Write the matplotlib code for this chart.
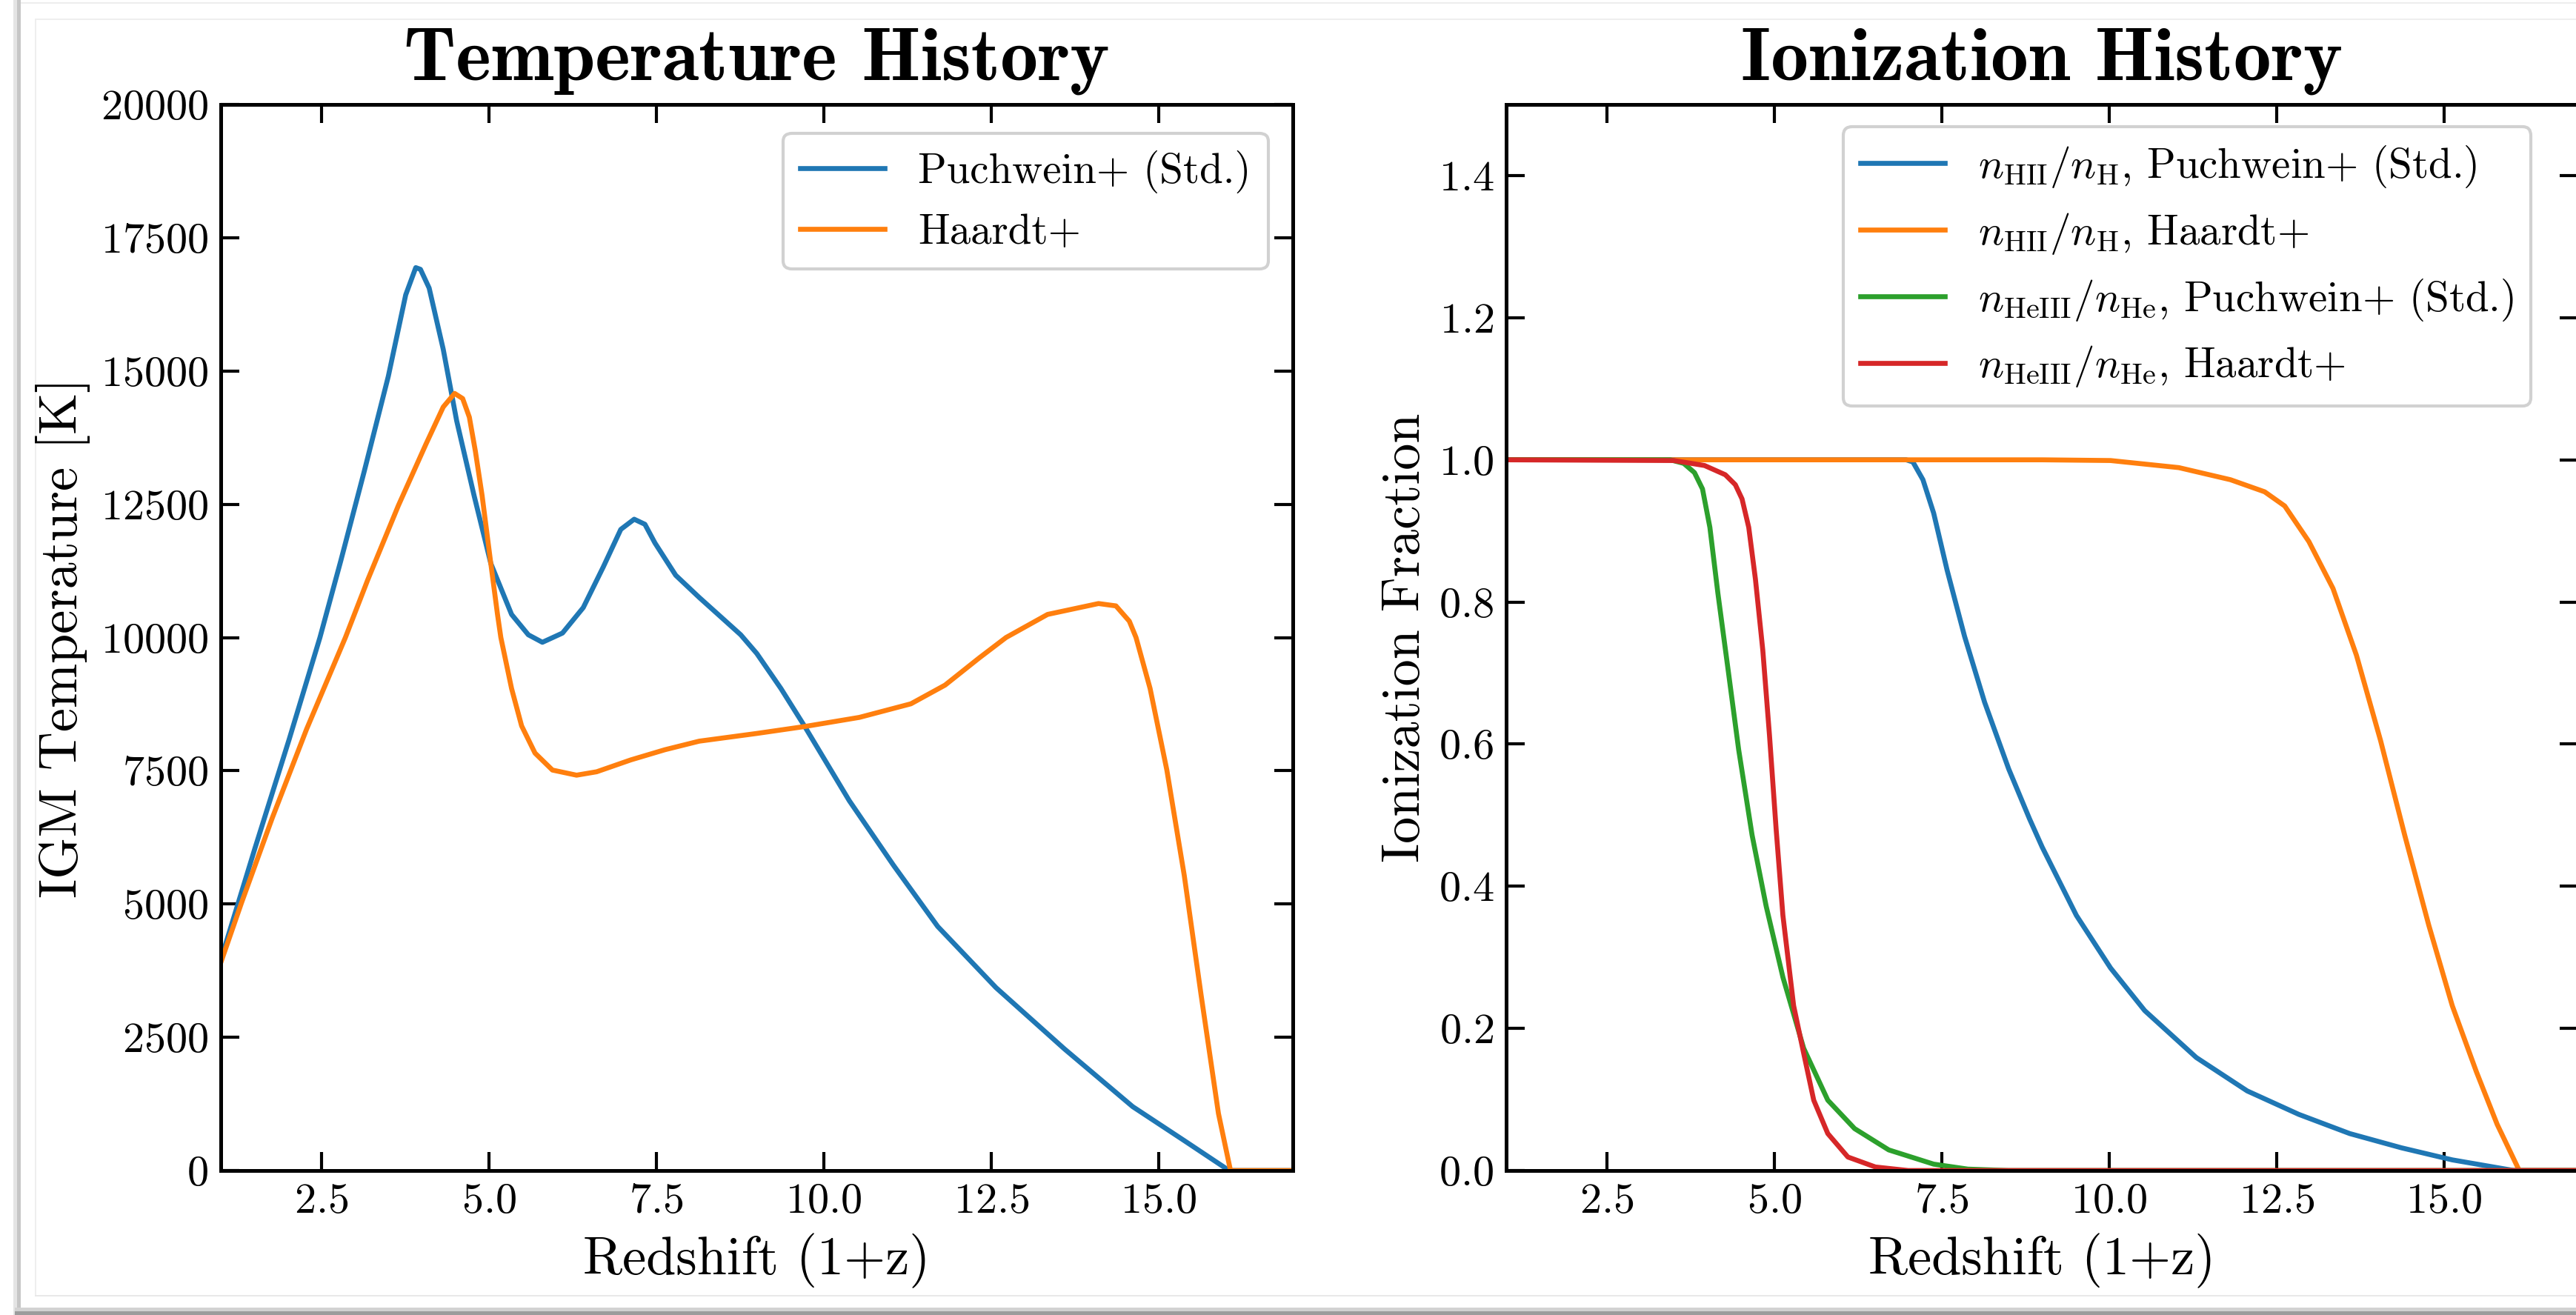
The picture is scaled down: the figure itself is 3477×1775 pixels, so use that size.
import numpy as np
import matplotlib
matplotlib.use("Agg")
from matplotlib import pyplot as plt
from matplotlib.patches import Rectangle

# Temperature history (1+z, K)
z_temp_puchwein = [1.0, 1.51, 2.02, 2.48, 2.79, 3.14, 3.50, 3.76, 3.91, 3.98, 4.11, 4.32, 4.52,
                   4.78, 5.03, 5.34, 5.59, 5.80, 6.10, 6.41, 6.71, 6.97, 7.17, 7.33, 7.48, 7.79,
                   8.14, 8.45, 8.76, 9.0, 9.36, 9.71, 10.38, 11.04, 11.70, 12.57, 13.59, 14.61,
                   15.38, 16.05, 17.0]
T_puchwein = [3950, 6046, 8087, 10000, 11434, 13112, 14898, 16428, 16939, 16907, 16556, 15408,
              14069, 12665, 11390, 10433, 10051, 9910, 10083, 10561, 11327, 12028, 12219, 12124,
              11773, 11167, 10752, 10402, 10051, 9700, 9043, 8342, 6939, 5727, 4579, 3431, 2283,
              1199, 561, 0, 0]

z_temp_haardt = [1.0, 1.31, 1.77, 2.28, 2.86, 3.19, 3.65, 4.06, 4.32, 4.49, 4.61, 4.71, 4.80,
                 4.90, 5.03, 5.13, 5.18, 5.34, 5.49, 5.69, 5.95, 6.31, 6.61, 7.12, 7.63, 8.14,
                 9.0, 9.71, 10.53, 11.30, 11.81, 12.32, 12.72, 13.34, 14.10, 14.36, 14.56, 14.66,
                 14.87, 15.12, 15.38, 15.63, 15.89, 16.07, 17.0]
T_haardt = [3900, 5025, 6620, 8278, 10000, 11071, 12474, 13622, 14324, 14579, 14483, 14133, 13494,
            12665, 11390, 10433, 10000, 9043, 8342, 7831, 7513, 7417, 7481, 7704, 7895, 8055,
            8200, 8329, 8501, 8756, 9107, 9617, 10000, 10433, 10637, 10593, 10306, 10000,
            9043, 7513, 5535, 3303, 1071, 0, 0]

# Ionization history
z_HII_puchwein = [1.0, 6.97, 7.07, 7.22, 7.38, 7.58, 7.84, 8.14, 8.50, 8.81, 9.0, 9.51, 10.02,
                  10.53, 11.30, 12.06, 12.83, 13.59, 14.36, 15.12, 16.04, 17.0]
x_HII_puchwein = [1.0, 1.0, 0.997, 0.972, 0.925, 0.845, 0.752, 0.659, 0.565, 0.495, 0.455, 0.359,
                  0.285, 0.225, 0.159, 0.112, 0.079, 0.052, 0.032, 0.015, 0.0, 0.0]

z_HII_haardt = [1.0, 9.0, 10.02, 11.04, 11.81, 12.32, 12.62, 12.98, 13.34, 13.69, 14.05, 14.41,
                14.77, 15.12, 15.48, 15.79, 16.12, 17.0]
x_HII_haardt = [1.0, 1.0, 0.999, 0.989, 0.972, 0.955, 0.935, 0.885, 0.819, 0.725, 0.605, 0.472,
                0.345, 0.232, 0.139, 0.065, 0.0, 0.0]

z_HeIII_puchwein = [1.0, 3.45, 3.65, 3.81, 3.93, 4.04, 4.16, 4.32, 4.47, 4.67, 4.88, 5.13, 5.44,
                    5.80, 6.20, 6.71, 7.38, 7.89, 8.5, 17.0]
x_HeIII_puchwein = [1.0, 1.0, 0.995, 0.982, 0.959, 0.905, 0.812, 0.699, 0.592, 0.472, 0.372,
                    0.272, 0.172, 0.099, 0.059, 0.029, 0.009, 0.002, 0.0, 0.0]

z_HeIII_haardt = [1.0, 3.5, 3.96, 4.27, 4.42, 4.52, 4.62, 4.72, 4.83, 4.93, 5.03, 5.13, 5.29,
                  5.44, 5.59, 5.80, 6.10, 6.51, 7.0, 17.0]
x_HeIII_haardt = [1.0, 0.999, 0.992, 0.979, 0.965, 0.945, 0.905, 0.832, 0.732, 0.612, 0.479,
                  0.359, 0.232, 0.165, 0.099, 0.052, 0.019, 0.005, 0.0, 0.0]

x_ticks = [2.5, 5.0, 7.5, 10.0, 12.5, 15.0]
T_ticks = [0, 2500, 5000, 7500, 10000, 12500, 15000, 17500, 20000]
frac_ticks = [0.0, 0.2, 0.4, 0.6, 0.8, 1.0, 1.2, 1.4]

plt.rcParams['font.family'] = 'serif'
plt.rcParams['font.serif'] = ['cmr10']
plt.rcParams['mathtext.fontset'] = 'cm'
plt.rcParams['axes.formatter.use_mathtext'] = True
plt.rcParams['axes.unicode_minus'] = False

W, H = 3477, 1775
DPI = 200
fig = plt.figure(figsize=(W / DPI, H / DPI), dpi=DPI)


def px_rect(x0, y0, x1, y1, color):
    fig.patches.append(Rectangle((x0 / W, 1 - y1 / H), (x1 - x0) / W, (y1 - y0) / H,
                                 transform=fig.transFigure, facecolor=color,
                                 edgecolor='none', zorder=-5))


# card border and shadow
px_rect(18, 0, 23, H, '#e4e4e4')
px_rect(23, 0, 28, H, '#c6c6c6')
px_rect(20, 1765, W, 1770, '#d2d2d2')
px_rect(20, 1770, W, H, '#9c9c9c')
px_rect(28, 3, W, 5, '#ededed')
px_rect(47, 25, W, 27, '#eeeeee')
px_rect(47, 25, 49, 1750, '#eeeeee')
px_rect(47, 1748, W, 1750, '#e8e8e8')

ax1 = fig.add_axes([298 / W, 1 - 1580 / H, 1447 / W, 1439 / H])
ax2 = fig.add_axes([2033 / W, 1 - 1580 / H, 1447 / W, 1439 / H])

lw = 2.4
ax1.plot(z_temp_puchwein, T_puchwein, color='#1f77b4', lw=lw, label='Puchwein+ (Std.)')
ax1.plot(z_temp_haardt, T_haardt, color='#ff7f0e', lw=lw, label='Haardt+')

ax2.plot(z_HII_puchwein, x_HII_puchwein, color='#1f77b4', lw=lw,
         label=r'$n_{\mathrm{HII}}/n_{\mathrm{H}}$, Puchwein+ (Std.)')
ax2.plot(z_HII_haardt, x_HII_haardt, color='#ff7f0e', lw=lw,
         label=r'$n_{\mathrm{HII}}/n_{\mathrm{H}}$, Haardt+')
ax2.plot(z_HeIII_puchwein, x_HeIII_puchwein, color='#2ca02c', lw=lw,
         label=r'$n_{\mathrm{HeIII}}/n_{\mathrm{He}}$, Puchwein+ (Std.)')
ax2.plot(z_HeIII_haardt, x_HeIII_haardt, color='#d62728', lw=lw,
         label=r'$n_{\mathrm{HeIII}}/n_{\mathrm{He}}$, Haardt+')

ax1.set_ylim(0, 20000)
ax1.set_yticks(T_ticks)
ax2.set_ylim(0, 1.5)
ax2.set_yticks(frac_ticks)

for ax in (ax1, ax2):
    ax.set_xlim(1, 17)
    ax.set_xticks(x_ticks)
    ax.tick_params(direction='in', top=True, right=True, length=9, width=1.5,
                   labelsize=21, pad=6)
    for sp in ax.spines.values():
        sp.set_linewidth(1.8)
    ax.set_xlabel('Redshift (1+z)', fontsize=26, labelpad=6)

ax1.set_ylabel('IGM Temperature [K]', fontsize=26, labelpad=5)
ax2.set_ylabel('Ionization Fraction', fontsize=26, labelpad=4)

ax1.set_title('Temperature History', fontsize=36.5, fontfamily='cmb10', pad=12)
ax2.set_title('Ionization History', fontsize=36.5, fontfamily='cmb10', pad=12)

leg1 = ax1.legend(loc='upper right', bbox_to_anchor=(0.977, 0.973), borderaxespad=0,
                  fontsize=20.5, fancybox=True, framealpha=1.0, edgecolor='0.82')
leg2 = ax2.legend(loc='upper right', bbox_to_anchor=(0.956, 0.979), borderaxespad=0,
                  fontsize=20.5, fancybox=True, framealpha=1.0, edgecolor='0.82')
for leg in (leg1, leg2):
    leg.get_frame().set_linewidth(1.5)

fig.savefig('out.png', dpi=DPI)
